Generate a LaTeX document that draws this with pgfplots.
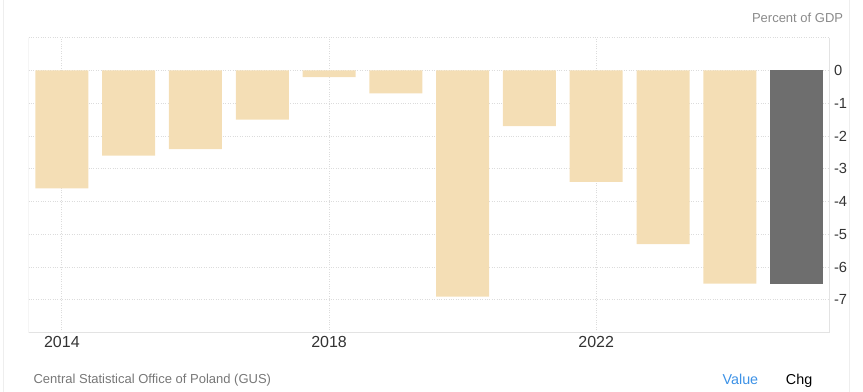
\documentclass[border=0pt]{standalone}
\usepackage{fontspec}
\setmainfont{Liberation Sans}
\usepackage{pgfplots}
\pgfplotsset{compat=1.18}
\definecolor{barc}{HTML}{F4DEB5}
\definecolor{darkbar}{HTML}{6E6E6E}
\definecolor{gridc}{HTML}{DCDCDC}
\definecolor{framec}{HTML}{E3E3E3}
\definecolor{outerc}{HTML}{EEEEEE}
\definecolor{tickc}{HTML}{333333}
\definecolor{unitc}{HTML}{8A8A8A}
\definecolor{srcc}{HTML}{777777}
\definecolor{valc}{HTML}{3C91E6}
\begin{document}
\begin{tikzpicture}
\useasboundingbox (0,0) rectangle (647.25pt,-294pt);
\draw[outerc, line width=0.75pt] (2.5pt,0) -- (2.5pt,-294pt);
\draw[outerc, line width=0.75pt] (637pt,0) -- (637pt,-294pt);
\begin{axis}[
  at={(21.375pt,-249.5pt)}, anchor=south west,
  scale only axis, width=601.1pt, height=221.25pt,
  xmin=-0.5, xmax=11.5, ymin=-8, ymax=1,
  axis line style={draw=none},
  xtick={0,4,8}, xticklabels={2014,2018,2022},
  ytick={-7,-6,-5,-4,-3,-2,-1,0,1},
  yticklabels={{-7},{-6},{-5},{-4},{-3},{-2},{-1},{0},{}},
  grid=major,
  major grid style={gridc, line width=0.6pt, dash pattern=on 0.8pt off 1pt},
  major tick length=0pt,
  yticklabel pos=right,
  y tick label style={font=\fontsize{11}{13}\selectfont, text=tickc, xshift=-0.5pt},
  x tick label style={font=\fontsize{12}{14}\selectfont, text=tickc, yshift=0.5pt},
  ybar, bar width=39.75pt, bar shift=0pt,
]
\addplot[fill=barc, draw=none] coordinates {
  (0,-3.6) (1,-2.6) (2,-2.4) (3,-1.5) (4,-0.2) (5,-0.7)
  (6,-6.9) (7,-1.7) (8,-3.4) (9,-5.3) (10,-6.5)
};
\addplot[fill=darkbar, draw=none] coordinates {(11,-6.5)};
\draw[framec, line width=0.75pt] (rel axis cs:0,1) -- (rel axis cs:0,0) -- (rel axis cs:1,0) -- (rel axis cs:1,1);
\end{axis}
\node[anchor=base east, inner sep=0pt, text=unitc, font=\fontsize{9.75}{11}\selectfont] at (632.5pt,-16.75pt) {Percent of GDP};
\node[anchor=base west, inner sep=0pt, text=srcc, font=\fontsize{9.75}{11}\selectfont] at (25pt,-287.6pt) {Central Statistical Office of Poland (GUS)};
\node[anchor=base west, inner sep=0pt, text=valc, font=\fontsize{10.75}{12}\selectfont] at (541.75pt,-288pt) {Value};
\node[anchor=base west, inner sep=0pt, text=black, font=\fontsize{10.75}{12}\selectfont] at (589.25pt,-288pt) {Chg};
\end{tikzpicture}
\end{document}
